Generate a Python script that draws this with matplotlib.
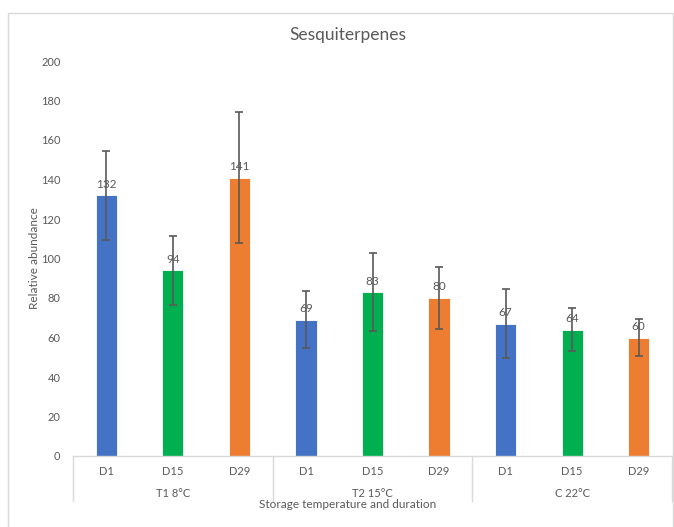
import matplotlib.pyplot as plt
from matplotlib.patches import Rectangle
import matplotlib.transforms as mtransforms

plt.rcParams['font.family'] = ['Lato', 'DejaVu Sans']

# data
days = ['D1', 'D15', 'D29', 'D1', 'D15', 'D29', 'D1', 'D15', 'D29']
groups = ['T1 8°C', 'T2 15°C', 'C 22°C']
values = [132, 94, 141, 69, 83, 80, 67, 64, 60]
errors = [22.5, 17.5, 33, 14.5, 19.7, 15.6, 17.6, 10.8, 9.5]
bar_colors = ['#4472C4', '#00B050', '#ED7D31'] * 3

text_gray = '#595959'
line_gray = '#D9D9D9'

fig = plt.figure(figsize=(6.74, 5.27), dpi=100)
W, H = 674, 527

# outer chart border
fig.patches.append(Rectangle((8 / W, -0.01), (665 / W), 1 - 13 / H + 0.01,
                             transform=fig.transFigure, fill=False,
                             edgecolor=line_gray, linewidth=1))

ax = fig.add_axes([73 / W, 1 - 456 / H, 599 / W, 395 / H])
x = list(range(len(values)))
ax.bar(x, values, width=0.32, color=bar_colors, edgecolor='white',
       linewidth=0.6, zorder=2)
ax.errorbar(x, values, yerr=errors, fmt='none', ecolor=text_gray,
            elinewidth=1.2, capsize=3, capthick=1.2, zorder=3)
for xi, v in zip(x, values):
    ax.annotate(str(v), (xi, v), xytext=(0, 4), textcoords='offset points',
                ha='center', va='bottom', fontsize=8.5, color=text_gray, zorder=4)

ax.set_xlim(-0.5, len(values) - 0.5)
ax.set_ylim(0, 200)
ax.set_yticks(range(0, 201, 20))
ax.tick_params(axis='y', length=0, pad=9, labelsize=8, labelcolor=text_gray)
ax.set_xticks([])
for s in ['top', 'right', 'left']:
    ax.spines[s].set_visible(False)
ax.spines['bottom'].set_color(line_gray)
ax.spines['bottom'].set_linewidth(1)

# multi-level category axis
trans = mtransforms.blended_transform_factory(ax.transData, ax.transAxes)
for xi, d in zip(x, days):
    ax.text(xi, -0.04, d, transform=trans, ha='center', va='center',
            fontsize=8, color=text_gray)
for gi, g in enumerate(groups):
    ax.text(gi * 3 + 1, -0.096, g, transform=trans, ha='center', va='center',
            fontsize=8, color=text_gray)
for xd in [-0.5, 2.5, 5.5, 8.5]:
    ax.plot([xd, xd], [0, -0.114], transform=trans, color=line_gray,
            linewidth=1, clip_on=False)

ax.set_ylabel('Relative abundance', fontsize=8.5, color=text_gray, labelpad=1)
fig.text(348 / W, 1 - 504 / H, 'Storage temperature and duration',
         ha='center', va='center', fontsize=8.5, color=text_gray)
fig.text(348 / W, 1 - 35 / H, 'Sesquiterpenes', ha='center', va='center',
         fontsize=12.5, color=text_gray)

fig.savefig('out.png', dpi=100)
